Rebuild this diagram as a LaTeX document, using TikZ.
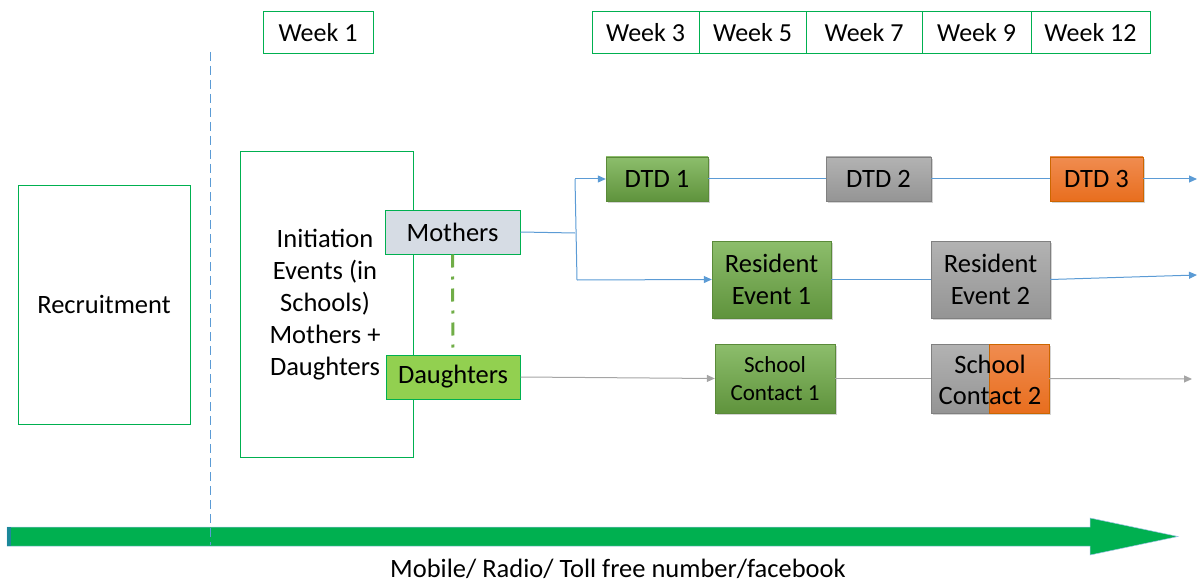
\documentclass[tikz,border=0pt]{standalone}
\usepackage{fontspec}
\setmainfont{Carlito}
\usetikzlibrary{arrows.meta,shadows}
\definecolor{bgreen}{HTML}{00B050}
\definecolor{lblue}{HTML}{5B9BD5}
\definecolor{agray}{HTML}{A5A5A5}
\definecolor{mgreen}{HTML}{70AD47}
\definecolor{lgreen}{HTML}{92D050}
\definecolor{mgray}{HTML}{D6DCE4}
\tikzset{
  txt/.style={font=\fontsize{26.5}{32}\selectfont, align=center, inner sep=0pt},
  weekbox/.style={draw=bgreen, line width=1pt, fill=white, minimum height=42, inner sep=0pt, font=\fontsize{26}{30}\selectfont},
  outline/.style={draw=bgreen, line width=1pt, inner sep=0pt},
  shade/.style={drop shadow={shadow xshift=1.5pt, shadow yshift=-2pt, opacity=0.35}},
  greenbox/.style={shade, draw=mgreen!80!black, line width=0.4pt, top color=mgreen!80!white, bottom color=mgreen!85!black, inner sep=0pt, align=center},
  graybox/.style={shade, draw=gray, line width=0.4pt, top color=agray!85!white, bottom color=agray!90!black, inner sep=0pt, align=center},
  orangebox/.style={shade, draw=orange!80!black, line width=0.4pt, top color={rgb,255:red,240;green,140;blue,80}, bottom color={rgb,255:red,232;green,110;blue,30}, inner sep=0pt, align=center},
  bluearrow/.style={draw=lblue, line width=1pt, -{Triangle[length=8pt,width=7pt]}},
  blueline/.style={draw=lblue, line width=1pt},
  grayarrow/.style={draw=agray, line width=1pt, -{Triangle[length=8pt,width=7pt]}},
  grayline/.style={draw=agray, line width=1pt},
}
\begin{document}
\begin{tikzpicture}[x=1pt,y=-1pt]
\useasboundingbox (0,0) rectangle (1198,588);
% weeks
\node[weekbox, minimum width=110] (w1) at (318,33) {Week 1};
\node[weekbox, minimum width=107] (w3) at (645.5,33) {Week 3};
\node[weekbox, minimum width=107] (w5) at (752.5,33) {Week 5};
\node[weekbox, minimum width=116] (w7) at (864,33) {Week 7};
\node[weekbox, minimum width=109] (w9) at (976.5,33) {Week 9};
\node[weekbox, minimum width=119] (w12) at (1090.5,33) {Week 12};
% dashed separator
\coordinate (dtop) at (210,52);
\coordinate (dbot) at (210,545);
% big arrow
\fill[bgreen, draw=lblue!60, line width=0.5pt] (7,527) -- (1090,527) -- (1090,518) -- (1178,536.5) -- (1090,555) -- (1090,546) -- (7,546) -- cycle;
\fill[teal!70!lblue] (7,527) rectangle (11,546);
\draw[lblue, line width=1pt, dash pattern=on 9pt off 5pt] (dtop) -- (dbot);
\node[txt] (media) at (618,569) {Mobile/ Radio/ Toll free number/facebook};
% recruitment
\node[outline, minimum width=172, minimum height=239, txt] (rec) at (104,304.5) {Recruitment};
% initiation
\node[outline, minimum width=173, minimum height=305] (init) at (326.5,304.5) {};
\node[txt] (inittxt) at (325,305) {Initiation\\Events (in\\Schools)\\Mothers +\\Daughters};
% mothers / daughters
\node[outline, fill=mgray, minimum width=135, minimum height=44, txt] (moth) at (452.5,232) {Mothers};
\node[outline, fill=lgreen, minimum width=134, minimum height=44, txt] (daug) at (453,377) {Daughters};
\draw[mgreen, line width=3pt, dash pattern=on 13pt off 9pt on 3pt off 9pt] (moth.south) -- (daug.north);
% DTD row
\node[greenbox, minimum width=102, minimum height=44, txt] (dtd1) at (657,179) {DTD 1};
\node[graybox, minimum width=105, minimum height=44, txt] (dtd2) at (878.5,179) {DTD 2};
\node[orangebox, minimum width=93, minimum height=44, txt] (dtd3) at (1096.5,179) {DTD 3};
% resident row
\node[greenbox, minimum width=119, minimum height=77, txt] (re1) at (771.5,279.5) {Resident\\Event 1};
\node[graybox, minimum width=119, minimum height=77, txt] (re2) at (990.5,279.5) {Resident\\Event 2};
% school row
\node[greenbox, minimum width=120, minimum height=69, font=\fontsize{23}{28}\selectfont] (sc1) at (775,378.5) {School\\Contact 1};
\node[graybox, minimum width=58, minimum height=69] (sc2a) at (960,378.5) {};
\node[orangebox, minimum width=60, minimum height=69] (sc2b) at (1019,378.5) {};
\node[txt, font=\fontsize{26.5}{31}\selectfont] (sc2) at (990,380) {School\\Contact 2};
% connectors
\coordinate (jm) at (575,233);
\coordinate (jt) at (575,179);
\coordinate (jb) at (577,280);
\coordinate (e1) at (1197,179);
\coordinate (e2) at (1197,275);
\coordinate (e3) at (1192,379);
\draw[blueline] (moth.east) -- (jm);
\draw[blueline] (jt) -- (jb);
\draw[bluearrow] (jt) -- (dtd1.west);
\draw[bluearrow] (jb) -- (re1.west);
\draw[blueline] (dtd1.east) -- (dtd2.west);
\draw[blueline] (dtd2.east) -- (dtd3.west);
\draw[bluearrow] (dtd3.east) -- (e1);
\draw[blueline] (re1.east) -- (re2.west);
\draw[bluearrow] (re2.east) -- (e2);
\draw[grayarrow] (daug.east) -- (sc1.west);
\draw[grayline] (sc1.east) -- (sc2a.west);
\draw[grayarrow] (sc2b.east) -- (e3);
\end{tikzpicture}
\end{document}
